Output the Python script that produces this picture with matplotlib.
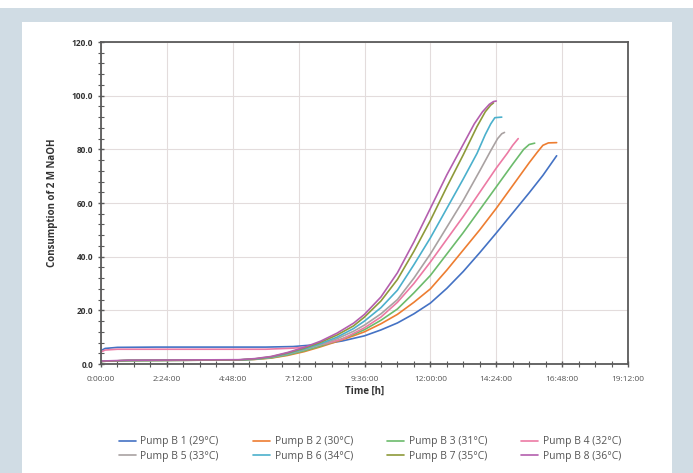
import matplotlib
matplotlib.use("Agg")
import matplotlib.pyplot as plt
from matplotlib.patches import Rectangle
from matplotlib.ticker import MultipleLocator, FuncFormatter

plt.rcParams["font.family"] = ["Open Sans", "DejaVu Sans"]

# time in hours, consumption values
labels = ["Pump B 1 (29°C)", "Pump B 2 (30°C)", "Pump B 3 (31°C)", "Pump B 4 (32°C)",
          "Pump B 5 (33°C)", "Pump B 6 (34°C)", "Pump B 7 (35°C)", "Pump B 8 (36°C)"]
colors = ["#4472c4", "#ed7d31", "#6cbb6c", "#ec7aa4",
          "#a9a2a2", "#4bb0cc", "#8e9a3a", "#b45fae"]

t1 = [0, 0.15, 0.6, 2, 4, 6, 7.0, 7.6, 8.2, 8.8, 9.6, 10.2, 10.8, 11.4, 12.0, 12.6, 13.2, 13.8, 14.4, 15.0, 15.6, 16.1, 16.6]
v1 = [5.0, 5.8, 6.2, 6.3, 6.3, 6.3, 6.5, 7.0, 7.6, 8.6, 10.5, 12.7, 15.3, 18.7, 22.7, 28.2, 34.5, 41.5, 48.8, 56.3, 63.8, 70.3, 77.6]

t2 = [0, 1, 3, 5, 5.6, 6.2, 6.8, 7.4, 8.0, 8.6, 9.2, 9.6, 10.2, 10.8, 11.4, 12.0, 12.6, 13.2, 13.8, 14.4, 15.0, 15.6, 15.9, 16.1, 16.3, 16.6]
v2 = [1.0, 1.3, 1.4, 1.5, 1.7, 2.2, 3.2, 4.6, 6.4, 8.4, 10.5, 12, 15, 18.5, 23, 28, 35, 42.5, 50, 58, 66.5, 75, 79, 81.5, 82.4, 82.5]

t3 = [0, 1, 3, 5, 5.6, 6.2, 6.8, 7.4, 8.0, 8.6, 9.2, 9.6, 10.2, 10.8, 11.4, 12.0, 12.6, 13.2, 13.8, 14.4, 15.0, 15.4, 15.6, 15.8]
v3 = [1.0, 1.3, 1.4, 1.5, 1.75, 2.3, 3.4, 4.9, 6.7, 8.7, 11.0, 12.8, 16.3, 20.5, 26.5, 33, 41, 49, 57.5, 66, 74.5, 80, 81.8, 82.3]

t4 = [0, 0.15, 0.6, 2, 4, 6, 7.0, 7.6, 8.2, 8.8, 9.6, 10.2, 10.8, 11.4, 12.0, 12.6, 13.2, 13.8, 14.4, 14.8, 15.0, 15.2]
v4 = [4.5, 5.2, 5.5, 5.5, 5.5, 5.5, 5.9, 6.5, 7.6, 9.3, 13.5, 17.5, 23, 30, 38, 46.5, 55, 64, 73, 78.5, 81.5, 84]

t5 = [0, 1, 3, 5, 5.6, 6.2, 6.8, 7.4, 8.0, 8.6, 9.2, 9.6, 10.2, 10.8, 11.4, 12.0, 12.6, 13.2, 13.8, 14.2, 14.45, 14.6, 14.7]
v5 = [1.0, 1.3, 1.4, 1.5, 1.8, 2.5, 3.7, 5.3, 7.2, 9.4, 12.2, 14.5, 18.7, 24, 32, 41, 51, 61, 72, 79.5, 84, 85.8, 86.3]

t6 = [0, 1, 3, 5, 5.6, 6.2, 6.8, 7.4, 8.0, 8.6, 9.2, 9.6, 10.2, 10.8, 11.4, 12.0, 12.6, 13.2, 13.7, 14.0, 14.2, 14.35, 14.6]
v6 = [1.0, 1.3, 1.4, 1.5, 1.8, 2.6, 3.9, 5.6, 7.6, 10.0, 13.2, 16, 21, 27.5, 37, 47, 58, 69, 78.5, 85.5, 89.5, 91.8, 92]

t7 = [0, 1, 3, 5, 5.6, 6.2, 6.8, 7.4, 8.0, 8.6, 9.2, 9.6, 10.2, 10.8, 11.4, 12.0, 12.6, 13.2, 13.7, 14.0, 14.2, 14.3]
v7 = [1.0, 1.3, 1.4, 1.5, 1.9, 2.7, 4.1, 5.9, 8.1, 10.8, 14.2, 17.5, 23.5, 31.5, 42, 53.5, 66, 78, 88.5, 94, 96.5, 97.3]

t8 = [0, 1, 3, 5, 5.6, 6.2, 6.8, 7.4, 8.0, 8.6, 9.2, 9.6, 10.2, 10.8, 11.4, 12.0, 12.6, 13.1, 13.6, 13.9, 14.15, 14.3, 14.4]
v8 = [1.1, 1.4, 1.5, 1.6, 2.0, 2.8, 4.3, 6.2, 8.5, 11.5, 15.2, 18.5, 25, 34, 45.5, 58, 70.5, 80, 89.5, 94, 96.8, 97.8, 98]

times = [t1, t2, t3, t4, t5, t6, t7, t8]
values = [v1, v2, v3, v4, v5, v6, v7, v8]

fig = plt.figure(figsize=(6.93, 4.73), dpi=100)
fig.patch.set_facecolor("#d0dce4")
# white strip on top and white panel
fig.patches.append(Rectangle((0, 1 - 8 / 473), 1, 8 / 473, transform=fig.transFigure,
                             facecolor="white", edgecolor="none", zorder=-5))
fig.patches.append(Rectangle((22 / 693, 0), 650 / 693, 451 / 473, transform=fig.transFigure,
                             facecolor="white", edgecolor="none", zorder=-5))

ax = fig.add_axes([101 / 693, 1 - 364 / 473, 527 / 693, 322 / 473])
ax.set_zorder(2)

lines = []
for t, v, c, lab in zip(times, values, colors, labels):
    ln, = ax.plot(t, v, color=c, lw=1.2, label=lab, solid_capstyle="round")
    lines.append(ln)

ax.set_xlim(0, 19.2)
ax.set_ylim(0, 120)
ax.xaxis.set_major_locator(MultipleLocator(2.4))
ax.xaxis.set_minor_locator(MultipleLocator(0.6))
ax.yaxis.set_major_locator(MultipleLocator(20))
ax.yaxis.set_minor_locator(MultipleLocator(4))


def hms(h, pos):
    m = int(round(h * 60))
    return f"{m // 60}:{m % 60:02d}:00"


ax.xaxis.set_major_formatter(FuncFormatter(hms))
ax.yaxis.set_major_formatter(FuncFormatter(lambda y, pos: f"{y:.1f}"))

ax.grid(True, which="major", color="#e3dcdc", lw=0.8)
ax.set_axisbelow(True)
for s in ax.spines.values():
    s.set_color("#5a5a5a")
    s.set_linewidth(1.3)

ax.tick_params(axis="both", which="both", direction="inout", color="#5a5a5a")
ax.tick_params(axis="both", which="major", length=5, width=1)
ax.tick_params(axis="both", which="minor", length=4, width=0.8)
ax.tick_params(axis="x", labelsize=6, labelcolor="#555555", pad=6)
ax.tick_params(axis="y", labelsize=6, labelcolor="#333333", pad=3)
for lbl in ax.get_yticklabels():
    lbl.set_fontweight("bold")

ax.set_xlabel("Time [h]", fontsize=7, fontweight="bold", color="#333333", labelpad=2)
ax.set_ylabel("Consumption of 2 M NaOH", fontsize=7, fontweight="bold", color="#333333", labelpad=10)

# legend fills row by row in the reference
order = [0, 4, 1, 5, 2, 6, 3, 7]
fig.legend([lines[i] for i in order], [labels[i] for i in order],
           loc="upper center", bbox_to_anchor=(370 / 693, 1 - 427 / 473), ncol=4, frameon=False,
           fontsize=7.5, handlelength=1.6, columnspacing=3.3, labelspacing=0.3,
           handletextpad=0.45, labelcolor="#555555")

fig.savefig("out.png", dpi=100, facecolor=fig.get_facecolor())
